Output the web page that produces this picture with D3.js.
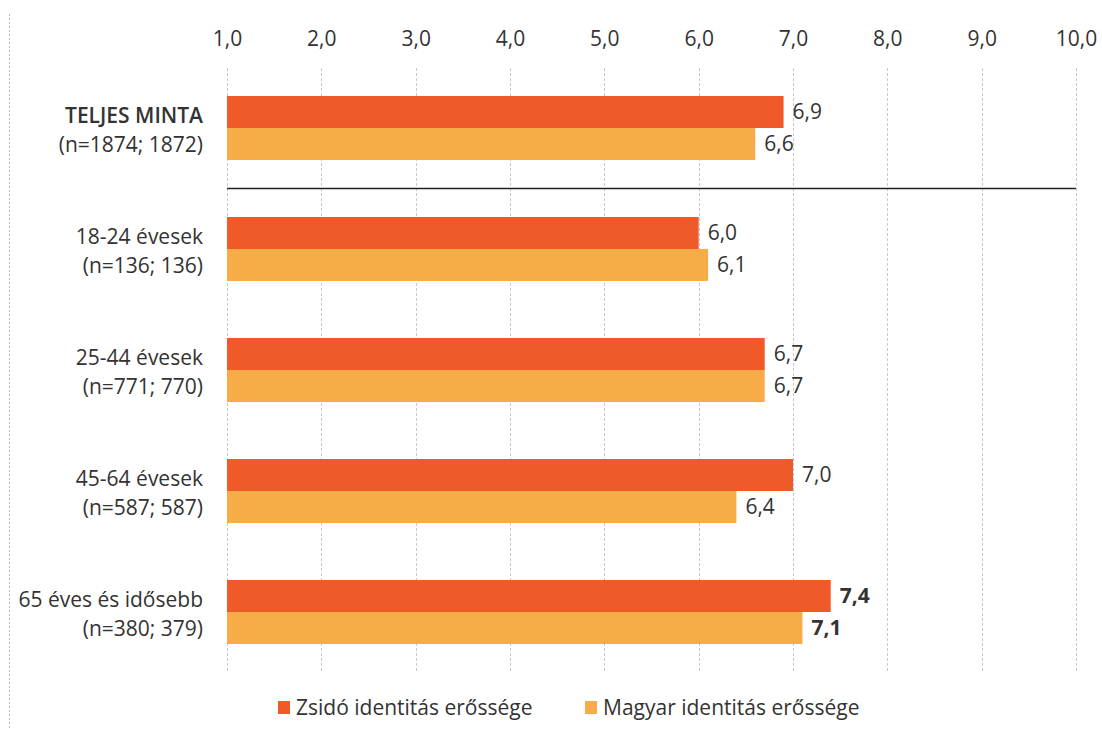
<!DOCTYPE html>
<html><head><meta charset="utf-8">
<script src="https://cdn.jsdelivr.net/npm/d3@7"></script>
<style>body{margin:0;background:#fff;} svg{display:block;}</style>
</head><body>
<svg id="c" width="1102" height="730"></svg>
<script>
const categoriesLine1 = ["TELJES MINTA", "18-24 évesek", "25-44 évesek", "45-64 évesek", "65 éves és idősebb"];
const categoriesLine2 = ["(n=1874; 1872)", "(n=136; 136)", "(n=771; 770)", "(n=587; 587)", "(n=380; 379)"];
const zsido = [6.9, 6.0, 6.7, 7.0, 7.4];
const magyar = [6.6, 6.1, 6.7, 6.4, 7.1];
const seriesNames = ["Zsidó identitás erőssége", "Magyar identitás erőssége"];
const tickValues = [1, 2, 3, 4, 5, 6, 7, 8, 9, 10];
const colors = ["#EF5A28", "#F7AC48"];

const svg = d3.select("#c");
const font = "'Open Sans', sans-serif";
const fs = 21;

// left border
svg.append("line").attr("x1", 9.5).attr("x2", 9.5).attr("y1", 14).attr("y2", 730)
  .attr("stroke", "#bbb").attr("stroke-dasharray", "2,2");

const x = d3.scaleLinear().domain([1, 10]).range([227, 1076]);
const groupCenters = d3.scalePoint().domain(d3.range(categoriesLine1.length)).range([128, 612]);
const barH = 32;

// gridlines
svg.append("g").selectAll("line").data(tickValues).join("line")
  .attr("x1", d => Math.round(x(d)) + 0.5).attr("x2", d => Math.round(x(d)) + 0.5)
  .attr("y1", 68).attr("y2", 672)
  .attr("stroke", "#c8c8c8").attr("stroke-width", 1).attr("stroke-dasharray", "3,2");

// top axis labels
const axis = d3.axisTop(x).tickValues(tickValues).tickSize(0).tickPadding(0)
  .tickFormat(d => d3.format(".1f")(d).replace(".", ","));
const ag = svg.append("g").attr("transform", "translate(0,46)").call(axis);
ag.select(".domain").remove();
ag.selectAll("text").attr("font-family", font).attr("font-size", fs).attr("fill", "#333");

// bars
const data = categoriesLine1.map((c, i) => ({i, vals: [zsido[i], magyar[i]]}));
const g = svg.append("g");
data.forEach(d => {
  d.vals.forEach((v, s) => {
    const y0 = groupCenters(d.i) - barH + s * barH;
    g.append("rect").attr("x", x(1)).attr("y", y0)
      .attr("width", x(v) - x(1)).attr("height", barH).attr("fill", colors[s]);
    g.append("text").attr("x", x(v) + 9).attr("y", y0 + barH / 2 + 7)
      .attr("font-family", font).attr("font-size", fs).attr("fill", "#333")
      .attr("font-weight", d.i === 4 ? "bold" : "normal")
      .text(d3.format(".1f")(v).replace(".", ","));
  });
  // category labels
  const t = g.append("text").attr("text-anchor", "end").attr("font-family", font)
    .attr("font-size", fs).attr("fill", "#333");
  t.append("tspan").attr("x", 203).attr("y", groupCenters(d.i) - 5).text(categoriesLine1[d.i])
    .attr("font-weight", d.i === 0 ? 600 : "normal");
  t.append("tspan").attr("x", 203).attr("y", groupCenters(d.i) + 24).text(categoriesLine2[d.i]);
});

// separator line
svg.append("line").attr("x1", x(1)).attr("x2", x(10)).attr("y1", 188.5).attr("y2", 188.5)
  .attr("stroke", "#222").attr("stroke-width", 1.5);

// legend
const legX = [278, 585];
seriesNames.forEach((n, s) => {
  svg.append("rect").attr("x", legX[s]).attr("y", 701).attr("width", 12).attr("height", 13).attr("fill", colors[s]);
  svg.append("text").attr("x", legX[s] + 18).attr("y", 715).attr("font-family", font)
    .attr("font-size", fs).attr("fill", "#333").text(n);
});
</script>
</body></html>
